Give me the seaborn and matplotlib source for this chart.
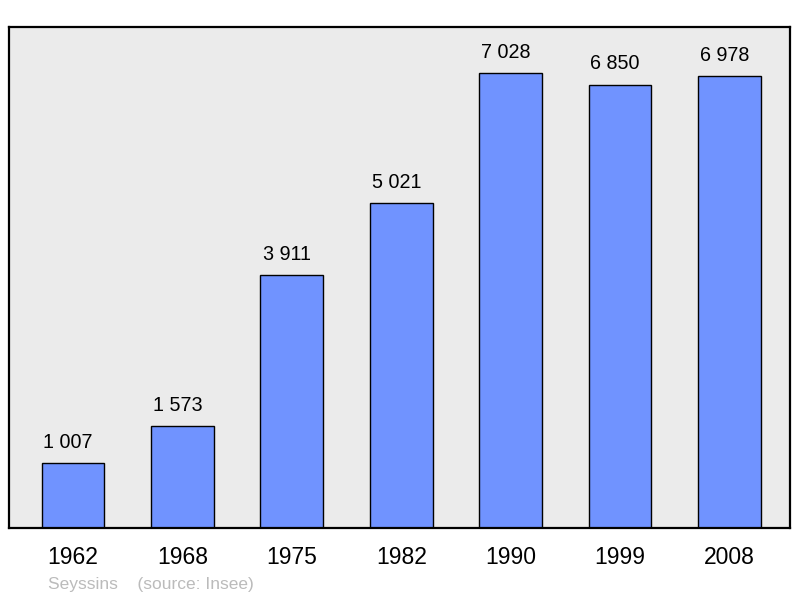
import matplotlib
matplotlib.use("Agg")
import matplotlib.pyplot as plt
import seaborn as sns
import pandas as pd

years = ["1962", "1968", "1975", "1982", "1990", "1999", "2008"]
population = [1007, 1573, 3911, 5021, 7028, 6850, 6978]
value_labels = ["1 007", "1 573", "3 911", "5 021", "7 028", "6 850", "6 978"]

df = pd.DataFrame({"year": years, "pop": population})

sns.set_style("white")
plt.rcParams["font.family"] = ["Liberation Sans", "DejaVu Sans"]

fig = plt.figure(figsize=(8, 5.98), dpi=100)
ax = fig.add_axes([9 / 800, (598 - 528) / 598, 781 / 800, 501 / 598])
ax.set_facecolor("#EBEBEB")

sns.barplot(data=df, x="year", y="pop", ax=ax, color="#7093FF", width=0.575,
            edgecolor="black", linewidth=1.0, saturation=1)

for i, (v, lab) in enumerate(zip(population, value_labels)):
    ax.annotate(lab, (i, v), xytext=(-3.5, 11), textcoords="offset points",
                ha="center", va="baseline", fontsize=14.2, color="black")

ax.set_xlim(-0.585, 6.554)
ax.set_ylim(0, 7741)
ax.set_yticks([])
ax.set_xlabel("")
ax.set_ylabel("")
ax.tick_params(axis="x", length=0, pad=13, labelsize=16.5, colors="black")
for s in ax.spines.values():
    s.set_visible(True)
    s.set_color("black")
    s.set_linewidth(1.6)

fig.text(48 / 800, 1 - 584 / 598, "Seyssins    (source: Insee)", color="#BBBBBB",
         fontsize=12.5, ha="left", va="center")

fig.savefig("out.png", dpi=100, facecolor="white")
